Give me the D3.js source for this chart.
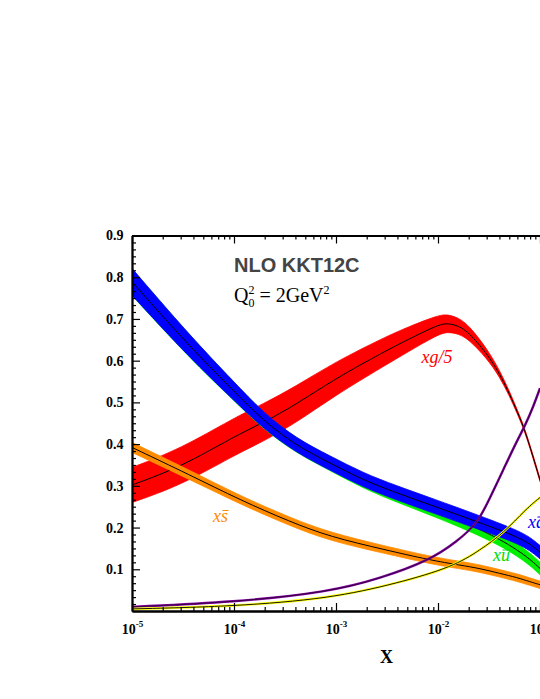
<!DOCTYPE html>
<html>
<head>
<meta charset="utf-8">
<script src="https://cdn.jsdelivr.net/npm/d3@7"></script>
<style>
  body { margin: 0; background: #fff; }
  svg { display: block; }
</style>
</head>
<body>
<svg width="540" height="699"></svg>
<script>
// ---- data (x, central value, half width of band) ----
var gluonX   = [1e-5, 3e-5, 1e-4, 1.92e-4, 4e-4, 1e-3, 3e-3, 5e-3, 1e-2, 1.25e-2, 1.6e-2, 2e-2, 3e-2, 4e-2, 5e-2, 6e-2, 7e-2, 8.5e-2, 1e-1];
var gluonC   = [0.302, 0.345, 0.418, 0.451, 0.494, 0.558, 0.622, 0.65, 0.686, 0.69, 0.683, 0.668, 0.618, 0.57, 0.522, 0.477, 0.438, 0.372, 0.314];
var gluonErr = [0.042, 0.044, 0.045, 0.045, 0.044, 0.04, 0.034, 0.03, 0.023, 0.021, 0.019, 0.017, 0.012, 0.008, 0.006, 0.005, 0.004, 0.004, 0.004];

var seaX     = [1e-5, 3.7e-5, 1e-4, 1.94e-4, 4.1e-4, 8.7e-4, 1.84e-3, 3.94e-3, 9.7e-3, 2.06e-2, 4.05e-2, 6e-2, 8e-2, 1e-1];
var dbarC    = [0.789, 0.633, 0.527, 0.456, 0.396, 0.355, 0.314, 0.283, 0.249, 0.22, 0.194, 0.177, 0.161, 0.141];
var dbarErr  = [0.032, 0.027, 0.022, 0.019, 0.017, 0.017, 0.017, 0.017, 0.017, 0.017, 0.016, 0.016, 0.016, 0.016];
var ubarC    = [0.788, 0.632, 0.526, 0.455, 0.395, 0.354, 0.311, 0.278, 0.241, 0.207, 0.172, 0.146, 0.124, 0.102];
var ubarErr  = [0.032, 0.027, 0.022, 0.019, 0.017, 0.017, 0.017, 0.017, 0.017, 0.016, 0.015, 0.015, 0.015, 0.015];

var sbarX    = [1e-5, 3.7e-5, 1.15e-4, 3.54e-4, 8.7e-4, 3e-3, 8.35e-3, 1.64e-2, 2.58e-2, 4.05e-2, 6e-2, 8e-2, 1e-1];
var sbarC    = [0.392, 0.326, 0.266, 0.214, 0.178, 0.147, 0.122, 0.11, 0.102, 0.09, 0.08, 0.07, 0.063];
var sbarErr  = [0.012, 0.011, 0.01, 0.01, 0.01, 0.009, 0.009, 0.009, 0.009, 0.009, 0.009, 0.009, 0.009];

var uvX      = [1e-5, 1e-4, 8.7e-4, 2.7e-3, 8.35e-3, 1.52e-2, 2.45e-2, 3.24e-2, 4.36e-2, 5.73e-2, 7.13e-2, 8.6e-2, 1e-1];
var uvC      = [0.01, 0.021, 0.046, 0.078, 0.122, 0.166, 0.21, 0.272, 0.338, 0.4, 0.444, 0.49, 0.534];

var dvX      = [1e-5, 1e-4, 8.7e-4, 3.94e-3, 1.41e-2, 2.58e-2, 4.36e-2, 7.4e-2, 1e-1];
var dvC      = [0.005, 0.011, 0.03, 0.066, 0.106, 0.146, 0.186, 0.246, 0.272];

var xMajor = [1e-5, 1e-4, 1e-3, 1e-2, 1e-1];
var xExp   = ["-5", "-4", "-3", "-2", "-1"];
var yMajor = [0.1, 0.2, 0.3, 0.4, 0.5, 0.6, 0.7, 0.8, 0.9];

var svg = d3.select("svg"),
    width = +svg.attr("width"),
    height = +svg.attr("height");

svg.append("rect").attr("width", width).attr("height", height).attr("fill", "#fff");

// plot frame: x=1e-5 at 132px, one decade = 102px, frame continues past the right edge
var pLeft = 132, pTop = 235.5, pBottom = 611, pRight = 132 + 5 * 102;

var x = d3.scaleLog().domain([1e-5, 1]).range([pLeft, pRight]);
var y = d3.scaleLinear().domain([0, 0.9]).range([pBottom, pTop]);

svg.append("defs").append("clipPath").attr("id", "plotclip")
  .append("rect").attr("x", pLeft).attr("y", pTop).attr("width", pRight - pLeft).attr("height", pBottom - pTop);

var plot = svg.append("g").attr("clip-path", "url(#plotclip)");

function rows(xs, cs, es) {
  return xs.map(function(v, i) { return {x: v, c: cs[i], e: es ? es[i] : 0}; });
}

var area = d3.area()
    .curve(d3.curveBasis)
    .x(function(d) { return x(d.x); })
    .y0(function(d) { return y(d.c - d.e); })
    .y1(function(d) { return y(d.c + d.e); });

var line = d3.line()
    .curve(d3.curveBasis)
    .x(function(d) { return x(d.x); })
    .y(function(d) { return y(d.c); });

function band(data, color) {
  plot.append("path").datum(data).attr("d", area).attr("fill", color).attr("stroke", color).attr("stroke-width", 0.8);
  plot.append("path").datum(data).attr("d", line).attr("fill", "none").attr("stroke", "#000").attr("stroke-width", 1);
}

function thin(data, color, core) {
  plot.append("path").datum(data).attr("d", line).attr("fill", "none").attr("stroke", color).attr("stroke-width", 2.4);
  plot.append("path").datum(data).attr("d", line).attr("fill", "none").attr("stroke", core).attr("stroke-width", 0.9);
}

band(rows(gluonX, gluonC, gluonErr), "#ff0000");
band(rows(seaX, ubarC, ubarErr), "#00ee00");
band(rows(seaX, dbarC, dbarErr), "#0000ff");
band(rows(sbarX, sbarC, sbarErr), "#ff8c00");
thin(rows(uvX, uvC), "#8000a0", "#2a0030");
thin(rows(dvX, dvC), "#ffff00", "#000");

// ---- axes, ticks pointing inside ----
var xMinor = [];
for (var p = -5; p < 0; p++) for (var k = 2; k <= 9; k++) xMinor.push(k * Math.pow(10, p));
var yMinor = d3.range(0, 55).filter(function(i) { return i % 6 != 0; }).map(function(i) { return i / 60; });

function styleAxis(g) {
  g.select(".domain").attr("stroke", "#000").attr("stroke-width", 1.8);
  g.selectAll(".tick line").attr("stroke", "#000").attr("stroke-width", 1.2);
}

svg.append("g").attr("transform", "translate(0," + pBottom + ")")
  .call(d3.axisBottom(x).tickValues(xMinor).tickSize(-4).tickSizeOuter(0).tickFormat(""))
  .call(styleAxis);
var xAxis = svg.append("g").attr("transform", "translate(0," + pBottom + ")")
  .call(d3.axisBottom(x).tickValues(xMajor).tickSize(-8).tickSizeOuter(0))
  .call(styleAxis);
xAxis.select(".domain").attr("stroke-width", 2.2);

xAxis.selectAll(".tick text")
  .attr("y", 22.5).attr("dy", 0)
  .attr("font-family", "'Liberation Serif', 'Times New Roman', serif")
  .attr("font-weight", "bold").attr("font-size", 14).attr("fill", "#000")
  .text(null)
  .each(function(d, i) {
    var t = d3.select(this);
    t.append("tspan").text("10");
    t.append("tspan").attr("dy", -6.5).attr("font-size", 9).text(xExp[i]);
  });

svg.append("g").attr("transform", "translate(0," + pTop + ")")
  .call(d3.axisTop(x).tickValues(xMinor).tickSize(-4).tickSizeOuter(0).tickFormat(""))
  .call(styleAxis);
svg.append("g").attr("transform", "translate(0," + pTop + ")")
  .call(d3.axisTop(x).tickValues(xMajor).tickSize(-8).tickSizeOuter(0).tickFormat(""))
  .call(styleAxis);

svg.append("g").attr("transform", "translate(" + pLeft + ",0)")
  .call(d3.axisLeft(y).tickValues(yMinor).tickSize(-4).tickSizeOuter(0).tickFormat(""))
  .call(styleAxis);
var yAxis = svg.append("g").attr("transform", "translate(" + pLeft + ",0)")
  .call(d3.axisLeft(y).tickValues(yMajor).tickSize(-8).tickSizeOuter(0).tickPadding(8.5).tickFormat(d3.format(".1f")))
  .call(styleAxis);
yAxis.selectAll(".tick text")
  .attr("font-family", "'Liberation Serif', 'Times New Roman', serif")
  .attr("font-weight", "bold").attr("font-size", 14).attr("fill", "#000");

svg.append("text")
  .attr("x", 386.5).attr("y", 663)
  .attr("text-anchor", "middle")
  .attr("font-family", "'Liberation Serif', 'Times New Roman', serif")
  .attr("font-weight", "bold").attr("font-size", 18)
  .text("X");

// ---- titles ----
svg.append("text")
  .attr("x", 234).attr("y", 271.5)
  .attr("font-family", "'Liberation Sans', Arial, sans-serif")
  .attr("font-weight", "bold").attr("font-size", 20).attr("fill", "#444")
  .text("NLO KKT12C");

var q = svg.append("text")
  .attr("x", 234).attr("y", 301.5)
  .attr("font-family", "'Liberation Serif', 'Times New Roman', serif")
  .attr("font-size", 20).attr("fill", "#000");
q.append("tspan").text("Q");
q.append("tspan").attr("dy", -7.5).attr("font-size", 12).text("2");
q.append("tspan").attr("dx", -6).attr("dy", 12.5).attr("font-size", 12).text("0");
q.append("tspan").attr("dy", -5).text(" = 2GeV");
q.append("tspan").attr("dy", -7.5).attr("font-size", 12).text("2");

// ---- curve labels ----
function curveLabel(px, py, a, b, color, barred) {
  var t = svg.append("text")
    .attr("x", px).attr("y", py)
    .attr("font-family", "'Liberation Serif', 'Times New Roman', serif")
    .attr("font-style", "italic").attr("font-size", 18).attr("fill", color)
    .text(a + b);
  if (barred) {
    var n = t.node();
    var sx = n.getStartPositionOfChar(1).x, w = n.getSubStringLength(1, 1);
    svg.append("line")
      .attr("x1", sx + 1.5).attr("x2", sx + w + 0.5)
      .attr("y1", py - 11).attr("y2", py - 11)
      .attr("stroke", color).attr("stroke-width", 1);
  }
}

curveLabel(421.5, 363, "xg/5", "", "#ff0000", false);
curveLabel(213, 521.5, "x", "s", "#ff8c00", true);
curveLabel(493, 561, "x", "u", "#00dd00", true);
curveLabel(528, 528, "x", "d", "#0000ff", true);
</script>
</body>
</html>
